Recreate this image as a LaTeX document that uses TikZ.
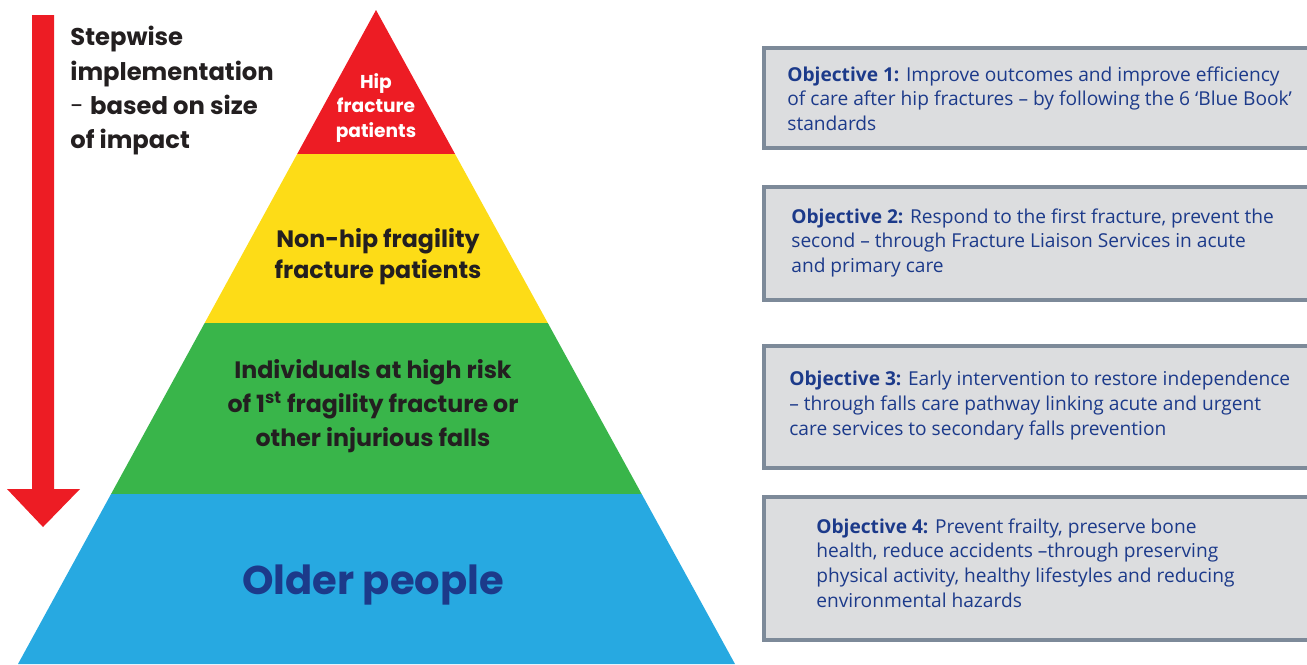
\documentclass[tikz,border=0pt]{standalone}
\usepackage{fontspec}
\setmainfont{Poppins}
\newfontfamily\boxfont{Open Sans}
\usetikzlibrary{calc}
\definecolor{hipred}{HTML}{ED1C24}
\definecolor{nonhipyellow}{HTML}{FDDC17}
\definecolor{riskgreen}{HTML}{39B54A}
\definecolor{olderblue}{HTML}{27A9E1}
\definecolor{navytext}{HTML}{1C3A8A}
\definecolor{darktext}{HTML}{231F20}
\definecolor{boxfill}{HTML}{DCDDDF}
\definecolor{boxline}{HTML}{7D8A99}

\tikzset{
	layertext/.style={font=\bfseries\fontsize{13.5}{17.8}\selectfont, text=darktext, align=center, inner sep=0pt},
	objbox/.style={draw=boxline, line width=1.8pt, fill=boxfill},
	objtext/.style={anchor=north west, align=left, inner sep=0pt, text=navytext,
		font=\boxfont\fontsize{10.9}{14.2}\selectfont}
}

\begin{document}
\begin{tikzpicture}[x=0.02cm, y=-0.02cm]
		%%%%% START %%%%%
		\useasboundingbox (0,0) rectangle (1307,664);
		
		% pyramid corners
		\coordinate (apex) at (376,10);
		\coordinate (bl) at (18,664);
		\coordinate (br) at (735,664);
		
		\fill[hipred] (apex) -- ($(apex)!0.2202!(br)$) -- ($(apex)!0.2202!(bl)$) -- cycle;
		\fill[nonhipyellow] ($(apex)!0.2202!(bl)$) -- ($(apex)!0.2202!(br)$) -- ($(apex)!0.4786!(br)$) -- ($(apex)!0.4786!(bl)$) -- cycle;
		\fill[riskgreen] ($(apex)!0.4786!(bl)$) -- ($(apex)!0.4786!(br)$) -- ($(apex)!0.7401!(br)$) -- ($(apex)!0.7401!(bl)$) -- cycle;
		\fill[olderblue] ($(apex)!0.7401!(bl)$) -- ($(apex)!0.7401!(br)$) -- (br) -- (bl) -- cycle;
		
		\node[layertext, text=white, font=\bfseries\fontsize{10.6}{14.2}\selectfont] (hip) at (376,108) {Hip\\fracture\\patients};
		\node[layertext] (nonhip) at (378,257) {Non-hip fragility\\fracture patients};
		\node[layertext, font=\bfseries\fontsize{13.5}{19.3}\selectfont] (risk) at (373,406) {Individuals at high risk\\of 1\textsuperscript{st} fragility fracture or\\other injurious falls};
		\node[layertext, text=navytext, font=\bfseries\fontsize{22.8}{26}\selectfont] (older) at (373,585) {Older people};
		
		% stepwise arrow
		\fill[hipred] (32,15) -- (54,15) -- (54,489) -- (80,489) -- (43,527) -- (7,489) -- (32,489) -- cycle;
		\node[anchor=north west, align=left, inner sep=0pt, text=darktext, font=\fontsize{13.8}{19.5}\selectfont] (stepwise) at (70,26)
			{\textbf{Stepwise}\\\textbf{implementation}\\- \textbf{based on size}\\\textbf{of impact}};
		
		% objective boxes
		\draw[objbox] (764,48) rectangle (1310,148);
		\node[objtext] (obj1) at (787,66) {\textbf{Objective 1:} Improve outcomes and improve efficiency\\of care after hip fractures – by following the 6 ‘Blue Book’\\standards};
		
		\draw[objbox] (764,187) rectangle (1310,300);
		\node[objtext] (obj2) at (791,208) {\textbf{Objective 2:} Respond to the first fracture, prevent the\\second – through Fracture Liaison Services in acute\\and primary care};
		
		\draw[objbox] (764,346) rectangle (1310,468);
		\node[objtext] (obj3) at (789,371) {\textbf{Objective 3:} Early intervention to restore independence\\– through falls care pathway linking acute and urgent\\care services to secondary falls prevention};
		
		\draw[objbox] (764,497) rectangle (1310,640);
		\node[objtext] (obj4) at (816,518) {\textbf{Objective 4:} Prevent frailty, preserve bone\\health, reduce accidents –through preserving\\physical activity, healthy lifestyles and reducing\\environmental hazards};
		
		%%%%% END %%%%%
\end{tikzpicture}
\end{document}
